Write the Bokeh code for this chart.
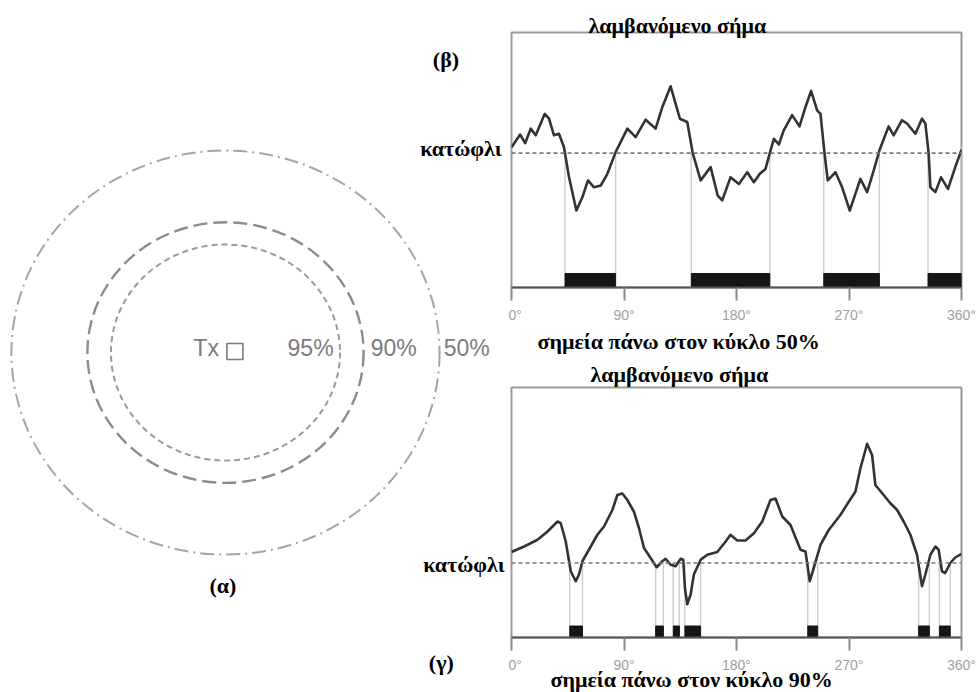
from bokeh.plotting import figure
from bokeh.layouts import row, column
from bokeh.models import Range1d, Label, FixedTicker, Span, Title
from bokeh.embed import file_html
from bokeh.resources import INLINE

# ---------------- data ----------------
# (β) received signal on the 50% circle
top_deg = [0, 6.9, 10.9, 15.4, 19.4, 26.6, 30, 34, 38, 42, 46, 51.9, 56.7, 61.2, 66, 71.4,
           76.7, 83.3, 92.7, 99.3, 107.3, 115.3, 120.7, 127.3, 134.7, 140.6, 145, 151.3,
           159.3, 165, 168.6, 175.2, 181.9, 188.6, 193.9, 198.7, 203.2, 207.2, 209.9, 213.9,
           217.8, 224.5, 230.4, 235.2, 239.7, 244.5, 247.2, 250.4, 253, 259.2, 264.5, 270.6,
           275.1, 279.1, 284.5, 289.8, 294.3, 301.7, 305.7, 312.4, 316.4, 323.1, 328.4, 331.1,
           333.7, 335.1, 339.1, 343.6, 349.2, 355, 360]
top_sig = [55, 60, 56.6, 62.3, 59.7, 68.1, 66.2, 59.7, 60.3, 55, 43.3, 30.2, 35.4, 42, 39.3, 40,
           44.6, 53.1, 62.3, 59, 65.8, 62.3, 70.8, 78.9, 66.2, 64.9, 52.7, 42,
           47.2, 36, 34.2, 43.2, 40.6, 45.2, 41.3, 44.6, 46.5, 53.7, 58.3, 56.1,
           61.6, 67.6, 63.2, 70.8, 77.1, 69.5, 68.1, 52.7, 42, 45.2, 39.3, 30.2,
           36.7, 42.6, 37.4, 45.9, 53.7, 63.2, 59.7, 65.6, 64.3, 60.3, 66.2, 64.3,
           52.7, 39.3, 37.4, 43.2, 38.7, 47.2, 54]
top_threshold = 52.7
top_out_start = [42.8, 143.8, 249.8, 333.2]
top_out_end = [83.3, 206.7, 294.3, 360]

# (γ) received signal on the 90% circle
bot_deg = [0, 10.1, 20.8, 28.8, 36.8, 39.4, 43.4, 47.4, 51.4, 54.0, 56.7, 63.4, 68.7, 74,
           80.7, 84.7, 88.7, 92.7, 98, 102, 106, 111.3, 116.1, 120.7, 123.3, 127.3, 131.3,
           135.3, 137.4, 138.7, 140.6, 143.3, 145.9, 151.3, 156.6, 164.6, 171.3, 175.2,
           180.6, 187.2, 193.9, 200.6, 207.2, 211.2, 216.6, 223.2, 231.2, 235.2, 238.6,
           241.8, 247.2, 253.8, 263.1, 269.8, 275.1, 279.1, 284.5, 288.5, 291.1, 297.7,
           303.1, 308.5, 313.7, 319.1, 324.4, 328.4, 331.1, 335.1, 339.1, 341.7, 344.4,
           347, 351, 355, 360]
bot_sig = [34.2, 36.4, 39.1, 42.4, 46.4, 45.7, 38.4, 26.5, 22.5, 25.2, 30.5, 36.4, 41.1, 44.4,
           51, 57, 57.6, 55, 50.3, 43.7, 35.8, 31.8, 28.1, 30.5, 31.5, 29.1, 28.5,
           31.5, 31.1, 19.9, 13.3, 17.2, 25.2, 31.1, 33.1, 34.2, 38.4, 41.1,
           38.8, 38.8, 41.7, 46.4, 55, 55.6, 48.4, 45, 35.1, 34.4, 22.5,
           27.8, 37.1, 43, 49, 54.3, 58.3, 67.6, 77.5, 72.9, 61, 57,
           53.7, 51, 46.4, 41.1, 33.1, 20.5, 25.2, 33.1, 36.4, 35.1, 26.5,
           25.8, 29.8, 32, 33.5]
bot_threshold = 29.8
bot_out_start = [46.6, 115.3, 129.4, 138.7, 237, 325.7, 342.3]
bot_out_end = [56.8, 121.5, 134.3, 151.3, 245, 334.3, 351]

tick_values = [0, 90, 180, 270, 360]
tick_labels = ["0°", "90°", "180°", "270°", "360°"]

# (α) coverage contours around the transmitter (normalised radius)
circle_names = ["95%", "90%", "50%"]
circle_radii = [0.535, 0.645, 1.0]
tx_x = [0.044]
tx_y = [0.005]

SERIF = "Liberation Serif"
SANS = "Liberation Sans"


def signal_panel(deg, sig, thr, out_start, out_end, bar_top, height, b_top, b_bottom,
                 title, title_off, title_so, xlabel, xlabel_off, xl_so, std):
    p = figure(width=471, height=height, x_range=Range1d(0, 360), y_range=Range1d(0, 100),
               output_backend="svg", toolbar_location=None, title=None,
               y_axis_location=None, min_border_left=3, min_border_right=18,
               min_border_top=b_top, min_border_bottom=b_bottom)
    p.grid.visible = False
    p.background_fill_color = "white"
    p.border_fill_color = "white"
    p.outline_line_color = "#9a9a9a"
    p.outline_line_width = 2

    edges = out_start + out_end
    p.segment(x0=edges, y0=[bar_top] * len(edges), x1=edges, y1=[thr] * len(edges),
              line_color="#cccccc", line_width=1.4)
    p.add_layout(Span(location=thr, dimension="width", line_color="#7a7a7a",
                      line_width=1.6, line_dash="4 3"))
    p.quad(left=out_start, right=out_end, bottom=0, top=bar_top,
           fill_color="#151515", line_color="#151515")
    p.line(deg, sig, line_color="#333333", line_width=2.6, line_join="round")

    ax = p.xaxis[0]
    ax.ticker = FixedTicker(ticks=tick_values)
    ax.major_label_overrides = {v: t for v, t in zip(tick_values, tick_labels)}
    ax.minor_tick_line_color = None
    ax.axis_line_color = "#555555"
    ax.axis_line_width = 2
    ax.major_tick_line_color = "#8a8a8a"
    ax.major_tick_line_width = 2
    ax.major_tick_in = 0
    ax.major_tick_out = 13
    ax.major_label_standoff = std
    ax.major_label_text_font = SANS
    ax.major_label_text_font_size = "14px"
    ax.major_label_text_color = "#a0a0a0"

    p.add_layout(Title(text=title, align="left", offset=title_off, standoff=title_so,
                       vertical_align="bottom", text_font=SERIF, text_font_style="bold",
                       text_font_size="22px", text_color="black"), "above")
    p.add_layout(Title(text=xlabel, align="left", offset=xlabel_off, standoff=xl_so,
                       vertical_align="top", text_font=SERIF, text_font_style="bold",
                       text_font_size="22px", text_color="black"), "below")
    return p


top = signal_panel(top_deg, top_sig, top_threshold, top_out_start, top_out_end, 5.5,
                   358, 32, 71, "λαμβανόμενο σήμα", 77, -10,
                   "σημεία πάνω στον κύκλο 50%", 26, 6, 6)
bottom = signal_panel(bot_deg, bot_sig, bot_threshold, bot_out_start, bot_out_end, 4.6,
                      334, 27, 55, "λαμβανόμενο σήμα", 79, 2,
                      "σημεία πάνω στον κύκλο 90%", 39, -18, 6)

# ---------------- left panel (α) ----------------
left = figure(width=508, height=692, x_range=Range1d(-1.051, 1.322),
              y_range=Range1d(-1.683, 1.743), output_backend="svg",
              toolbar_location=None, title=None, x_axis_location=None,
              y_axis_location=None, min_border=0)
left.grid.visible = False
left.outline_line_color = None
left.background_fill_color = "white"
left.border_fill_color = "white"

styles = [("#9a9a9a", "6 4", 2.0), ("#8c8c8c", "14 6", 2.4), ("#a5a5a5", "14 5 2 5", 2.0)]
for r, (col, dash, w) in zip(circle_radii, styles):
    left.ellipse(x=0, y=0, width=2 * r, height=2 * r, fill_color=None,
                 line_color=col, line_dash=dash, line_width=w)

left.scatter(x=tx_x, y=tx_y, marker="square", size=16, fill_color=None,
             line_color="#7a7a7a", line_width=1.6)

lab_kw = dict(text_font=SANS, text_font_size="23px", text_color="#7c7c7c",
              text_baseline="middle")
left.add_layout(Label(x=tx_x[0], y=0.025, x_offset=-16, text="Tx", text_align="right", **lab_kw))
left.add_layout(Label(x=circle_radii[0] - 0.03, y=0.025, text=circle_names[0],
                      text_align="right", **lab_kw))
left.add_layout(Label(x=circle_radii[1] + 0.033, y=0.025, text=circle_names[1],
                      text_align="left", **lab_kw))
left.add_layout(Label(x=circle_radii[2] + 0.019, y=0.025, text=circle_names[2],
                      text_align="left", **lab_kw))

ser_kw = dict(text_font=SERIF, text_font_style="bold", text_font_size="22px",
              text_color="black", text_baseline="middle")
left.add_layout(Label(x=-0.012, y=-1.153, text="(α)", text_align="center", **ser_kw))
left.add_layout(Label(x=1.030, y=1.450, text="(β)", text_align="center", **ser_kw))
left.add_layout(Label(x=1.008, y=-1.533, text="(γ)", text_align="center", **ser_kw))
left.add_layout(Label(x=1.290, y=1.012, text="κατώφλι", text_align="right", **ser_kw))
left.add_layout(Label(x=1.304, y=-1.050, text="κατώφλι", text_align="right", **ser_kw))

layout = row(left, column(top, bottom))
open("out.html", "w").write(file_html(layout, INLINE))
